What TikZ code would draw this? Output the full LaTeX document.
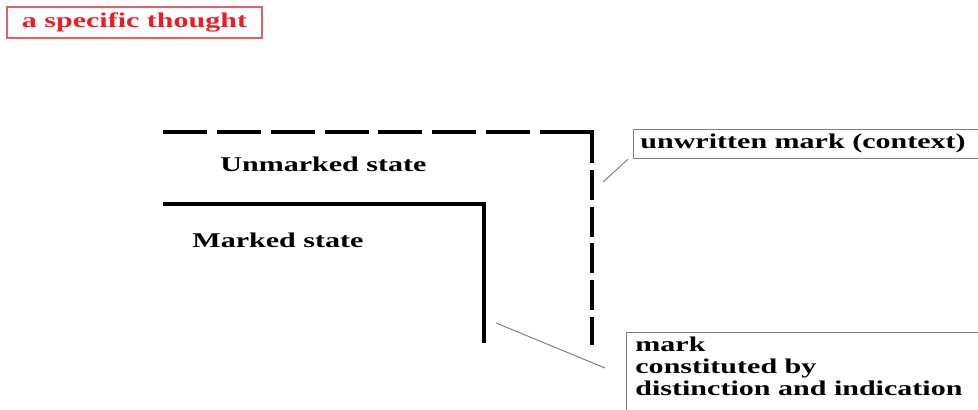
\documentclass[tikz,border=0pt]{standalone}
\usepackage{fontspec}
\setmainfont{Liberation Serif}[FakeStretch=1.43]
\definecolor{thoughtred}{RGB}{237,28,36}
\definecolor{framered}{RGB}{228,96,100}
\definecolor{leadgray}{RGB}{128,128,128}
\begin{document}
\begin{tikzpicture}[x=0.5pt,y=-0.5pt,
    txt/.style={font=\fontsize{10.5pt}{11pt}\selectfont\bfseries, inner sep=0pt},
    frame/.style={draw=leadgray, line width=0.6pt, inner sep=0pt},
    lead/.style={draw=leadgray, line width=0.5pt},
    stroke/.style={line width=2pt}]
    \useasboundingbox (0,0) rectangle (978,410);
    \node[txt, draw=framered, line width=0.6pt, text=thoughtred, minimum width=127.5pt, minimum height=15.5pt] (thought) at (134.5,22.5) {a specific thought};
    % unmarked state: dashed frame
    \draw[stroke, dash pattern=on 22pt off 4.93pt] (163,132) -- (540,132);
    \draw[stroke] (540,132) -- (592,132) -- (592,163);
    \draw[stroke, dash pattern=on 15pt off 3.375pt] (592,170) -- (592,345);
    % marked state: solid frame
    \draw[stroke] (163,204) -- (484,204) -- (484,343);
    \node[txt, anchor=base west] (unmarked) at (220,172) {Unmarked state};
    \node[txt, anchor=base west] (marked) at (192,248) {Marked state};
    % callouts
    \node[frame, anchor=north west, minimum width=180pt, minimum height=14.5pt] (ctxbox) at (633,129) {};
    \node[txt, anchor=base west] (ctx) at (640,149) {unwritten mark (context)};
    \coordinate (ctxtip) at (603,182);
    \draw[lead] (ctxtip) -- ([xshift=-2.5pt]ctxbox.south west);
    \node[frame, anchor=north west, minimum width=185pt, minimum height=45pt] (markbox) at (626,332) {};
    \node[txt, anchor=north west, align=left] (mark) at (635,337) {mark\\constituted by\\distinction and indication};
    \coordinate (marktip) at (496,323);
    \coordinate (markend) at (605,368);
    \draw[lead] (marktip) -- (markend);
\end{tikzpicture}
\end{document}
